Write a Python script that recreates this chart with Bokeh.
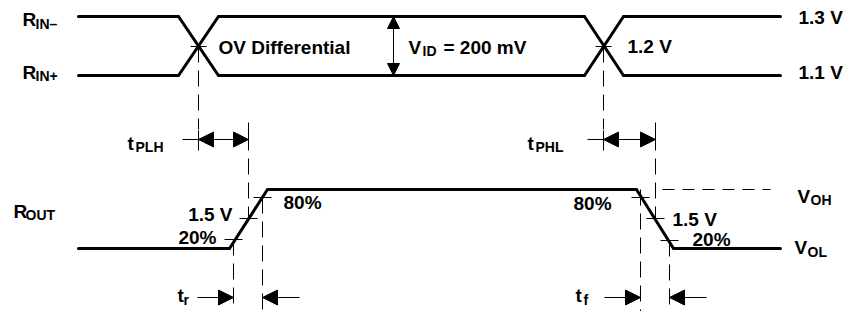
from bokeh.plotting import figure
from bokeh.models import Range1d, Arrow, NormalHead, ColumnDataSource
from bokeh.core.properties import value
from bokeh.embed import file_html
from bokeh.resources import INLINE

# ---------------- data (diagram units: x = time, y = level, downward) ----------------
in_time = [78, 178, 218, 584, 623, 780]
rin_minus = [16, 16, 75, 75, 16, 16]
rin_plus = [75, 75, 16, 16, 75, 75]

out_time = [78, 229, 267, 636, 673, 780]
rout = [248, 248, 189, 189, 248, 248]

cross_time = [198, 603]        # input crossing points (1.2 V)
cross_level = 46
t50 = [248, 655]               # output 1.5 V crossings
t20 = [233, 669]               # output 20 % crossings
t80 = [262, 640]               # output 80 % crossings
lvl20 = [239, 240]
lvl50 = [218, 218]
lvl80 = [197, 197]
voh_level = 189
vid_x = 393
vid_top, vid_bot = 16, 75
tp_row = 139                   # propagation-delay arrow row
tt_row = 297                   # transition-time arrow row

FONT = value("Liberation Sans")
TEXT_SHIFT = -6

p = figure(width=849, height=311, x_range=Range1d(0, 849), y_range=Range1d(311, 0),
           output_backend="svg", toolbar_location=None, min_border=0)
p.axis.visible = False
p.grid.visible = False
p.outline_line_color = None
p.background_fill_color = "white"

# waveforms
for ys in (rin_minus, rin_plus):
    p.line(in_time, ys, line_width=3, line_color="black", line_join="miter", line_cap="round")
p.line(out_time, rout, line_width=3, line_color="black", line_join="miter", line_cap="round")

# crossing ticks on inputs
p.segment(x0=[c - 8 for c in cross_time], x1=[c + 8 for c in cross_time],
          y0=[cross_level] * 2, y1=[cross_level] * 2, line_color="black", line_width=1)
# dashed verticals from input crossings
p.segment(x0=cross_time, x1=cross_time, y0=[cross_level] * 2, y1=[tp_row - 10] * 2,
          line_color="black", line_width=1, line_dash="16 8")
p.segment(x0=cross_time, x1=cross_time, y0=[tp_row - 9] * 2, y1=[tp_row + 11] * 2,
          line_color="black", line_width=1)
# 50% verticals
p.segment(x0=t50, x1=t50, y0=[tp_row - 17] * 2, y1=[tp_row + 11] * 2,
          line_color="black", line_width=1)
p.segment(x0=t50, x1=t50, y0=[tp_row + 19] * 2, y1=lvl50,
          line_color="black", line_width=1, line_dash="16 8")
# 20 / 80 verticals
p.segment(x0=[t20[0], t80[0], t80[1], t20[1]], x1=[t20[0], t80[0], t80[1], t20[1]],
          y0=[lvl20[0], lvl80[0], voh_level, lvl20[1]], y1=[311] * 4,
          line_color="black", line_width=1, line_dash="16 8")
# level ticks on the output edges
tx = [t20[0], t50[0], t80[0], t80[1], t50[1], t20[1]]
ty = [lvl20[0], lvl50[0], lvl80[0], lvl80[1], lvl50[1], lvl20[1]]
p.segment(x0=[x - 9 for x in tx], x1=[x + 9 for x in tx], y0=ty, y1=ty,
          line_color="black", line_width=1)
# V_OH dashed reference
p.segment(x0=[662], x1=[770], y0=[voh_level], y1=[voh_level],
          line_color="black", line_width=1, line_dash="12 8")

def head(size=15):
    return NormalHead(size=size, fill_color="black", line_color="black", line_width=1)

# V_ID arrow
p.add_layout(Arrow(start=head(12), end=head(12), x_start=vid_x, y_start=vid_top, x_end=vid_x,
                   y_end=vid_bot, line_width=1, line_color="black"))
# tPLH / tPHL
for c, e in zip(cross_time, t50):
    p.add_layout(Arrow(start=head(), end=head(), x_start=c, y_start=tp_row, x_end=e,
                       y_end=tp_row, line_width=1, line_color="black"))
    p.segment(x0=[c - 16], x1=[c], y0=[tp_row], y1=[tp_row], line_color="black", line_width=1)
# tr / tf
edges = [(t20[0], t80[0]), (t80[1], t20[1])]
for a, b in edges:
    p.add_layout(Arrow(end=head(), x_start=a - 36, y_start=tt_row, x_end=a, y_end=tt_row,
                       line_width=1, line_color="black"))
    p.add_layout(Arrow(end=head(), x_start=b + 37, y_start=tt_row, x_end=b, y_end=tt_row,
                       line_width=1, line_color="black"))

# ---------------- labels ----------------
main_left = dict(
    text=["R", "R", "OV Differential", "V", "= 200 mV", "1.2 V", "1.3 V", "1.1 V",
          "t", "t", "R", "80%", "80%", "1.5 V", "20%", "V", "V", "t", "t"],
    x=[22, 22, 218, 408, 443, 627, 798, 798, 127, 527, 13, 283, 573, 672, 692, 797, 794, 177, 575],
    y=[25, 78, 53, 53, 53, 52, 23, 78, 149, 149, 217, 208, 209, 225, 245, 202, 253, 301, 301],
)
main_right = dict(text=["1.5 V", "20%"], x=[232, 216], y=[220, 243])
subs = dict(
    text=["IN–", "IN+", "ID", "PLH", "PHL", "OUT", "OH", "OL", "r", "f"],
    x=[35, 35, 422, 135, 535, 25, 810, 807, 183, 583],
    y=[29, 81, 56, 152, 152, 220, 205, 257, 305, 305],
)
for d in (main_left, main_right, subs):
    d["y"] = [v + TEXT_SHIFT for v in d["y"]]

common = dict(text_font=FONT, text_font_style="bold", text_color="black",
              text_baseline="alphabetic")
p.text(x="x", y="y", text="text", source=ColumnDataSource(main_left), text_align="left",
       text_font_size="19px", **common)
p.text(x="x", y="y", text="text", source=ColumnDataSource(main_right), text_align="right",
       text_font_size="19px", **common)
p.text(x="x", y="y", text="text", source=ColumnDataSource(subs), text_align="left",
       text_font_size="14px", **common)

open("out.html", "w").write(file_html(p, INLINE))
